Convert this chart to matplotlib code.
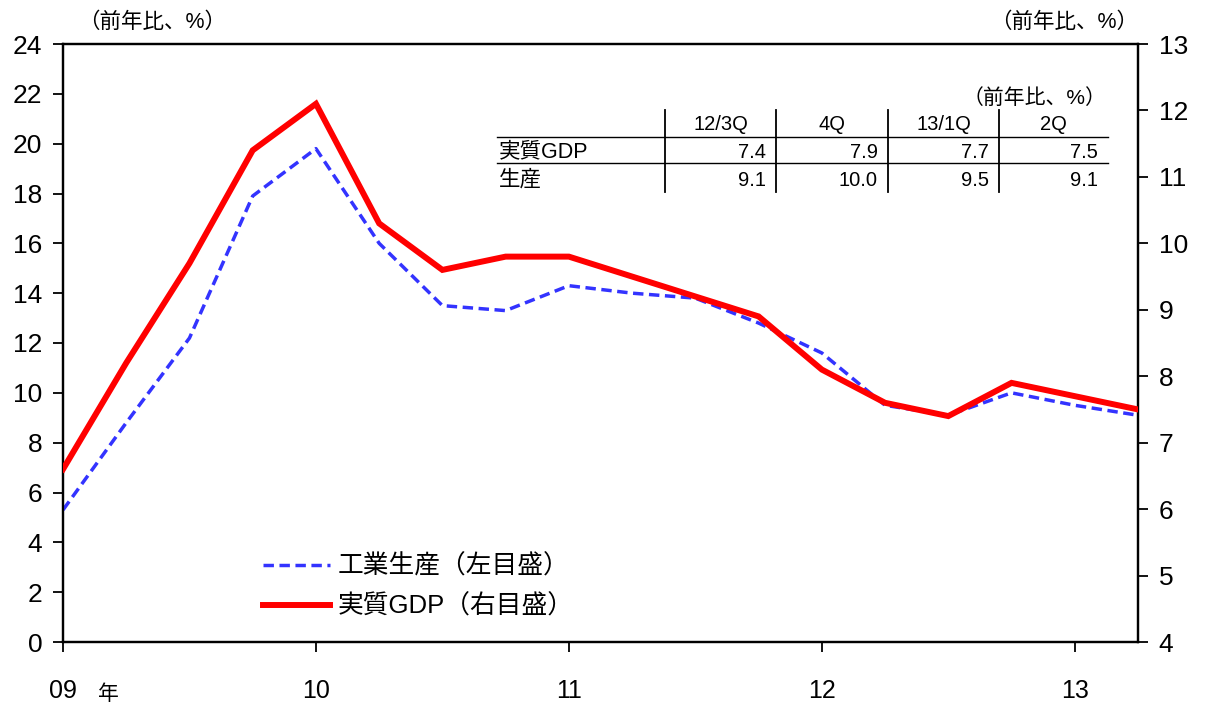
import matplotlib
matplotlib.use("Agg")
import matplotlib.pyplot as plt
from matplotlib.lines import Line2D

plt.rcParams["font.family"] = ["Liberation Sans", "Noto Sans CJK JP", "DejaVu Sans"]

# quarterly, 2009Q1 .. 2013Q2 (% y/y)
quarters = list(range(18))
production = [5.3, 8.8, 12.2, 17.9, 19.8, 16.0, 13.5, 13.3, 14.3, 14.0,
              13.8, 12.8, 11.6, 9.5, 9.1, 10.0, 9.5, 9.1]
real_gdp = [6.6, 8.2, 9.7, 11.4, 12.1, 10.3, 9.6, 9.8, 9.8, 9.5,
            9.2, 8.9, 8.1, 7.6, 7.4, 7.9, 7.7, 7.5]
year_ticks = [0, 4, 8, 12, 16]
year_labels = ["09", "10", "11", "12", "13"]

# inset table
tbl_cols = ["12/3Q", "4Q", "13/1Q", "2Q"]
tbl_rows = ["実質GDP", "生産"]
tbl_gdp = [7.4, 7.9, 7.7, 7.5]
tbl_prod = [9.1, 10.0, 9.5, 9.1]

W, H = 1207, 707
fig = plt.figure(figsize=(W / 100, H / 100), dpi=100)
ax = fig.add_axes([63 / W, 1 - 642 / H, (1138 - 63) / W, (642 - 44) / H])
ax2 = ax.twinx()

blue = "#3333FF"
red = "#FF0000"
l1, = ax.plot(quarters, production, color=blue, lw=2.5, dashes=(3, 1.6),
              zorder=3)
l2, = ax2.plot(quarters, real_gdp, color=red, lw=4.3, solid_joinstyle="miter",
               zorder=4)

ax.set_xlim(0, 17)
ax.set_ylim(0, 24)
ax.set_yticks(range(0, 25, 2))
ax2.set_ylim(4, 13)
ax2.set_yticks(range(4, 14))
ax.set_xticks(year_ticks)
ax.set_xticklabels(year_labels)

for a in (ax, ax2):
    for s in a.spines.values():
        s.set_linewidth(1.6)
ax.tick_params(axis="y", direction="out", length=7, width=1.3,
               labelsize=19, pad=8)
ax2.tick_params(axis="y", direction="out", length=7, width=1.3,
                labelsize=19, pad=8)
ax.tick_params(axis="x", direction="out", length=7, width=1.3,
               labelsize=18, pad=20)

fig.text(78 / W, 1 - 22 / H, "（前年比、%）", fontsize=15.5, va="center", ha="left")
fig.text(1138 / W, 1 - 22 / H, "（前年比、%）", fontsize=15.5, va="center", ha="right")
fig.text(108 / W, 1 - 694 / H, "年", fontsize=15, va="center", ha="center")

# table drawn in figure coords
def fx(px):
    return px / W

def fy(py):
    return 1 - py / H

col_edges = [665, 776, 888, 999, 1108]
fig.text(fx(1106), fy(98), "（前年比、%）", fontsize=15, ha="right", va="center")
fig.add_artist(Line2D([fx(497), fx(1108)], [fy(137), fy(137)], color="black", lw=1))
fig.add_artist(Line2D([fx(497), fx(1108)], [fy(163), fy(163)], color="black", lw=1))
for xe in col_edges[:4]:
    fig.add_artist(Line2D([fx(xe), fx(xe)], [fy(110), fy(192)], color="black", lw=1.3))
for i, c in enumerate(tbl_cols):
    xc = (col_edges[i] + col_edges[i + 1]) / 2
    fig.text(fx(xc), fy(125), c, fontsize=14.5, ha="center", va="center")
for j, (name, vals) in enumerate(zip(tbl_rows, [tbl_gdp, tbl_prod])):
    yc = 152 + j * 28
    fig.text(fx(499), fy(yc), name, fontsize=15.5, ha="left", va="center")
    for i, v in enumerate(vals):
        fig.text(fx(col_edges[i + 1] - 10), fy(yc), f"{v:.1f}", fontsize=14.5,
                 ha="right", va="center")

ax.legend([l1, l2], ["工業生産（左目盛）", "実質GDP（右目盛）"],
          loc="upper left", bbox_to_anchor=(190 / (1138 - 63), 1 - (544 - 44) / 598),
          frameon=False, fontsize=18.5, handlelength=2.6, handletextpad=0.3,
          labelspacing=0.6, borderaxespad=0)

fig.savefig("out.png", dpi=100)
